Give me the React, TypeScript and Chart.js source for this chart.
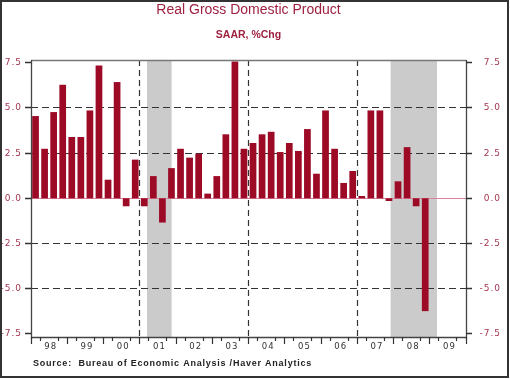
import React, { useEffect, useRef } from 'react';
import { Chart, registerables } from 'chart.js';

Chart.register(...registerables);

// ---- data ----
const years: number[] = [1998, 1999, 2000, 2001, 2002, 2003, 2004, 2005, 2006, 2007, 2008, 2009];
const quarterNames: string[] = ['Q1', 'Q2', 'Q3', 'Q4'];
const quarters: string[] = years.flatMap((yr) => quarterNames.map((q) => `${yr}${q}`));
const yearLabels: string[] = ['98', '99', '00', '01', '02', '03', '04', '05', '06', '07', '08', '09'];

// Real GDP, SAAR % change, 1998Q1 .. 2008Q4
const gdpGrowth: number[] = [
  4.55, 2.74, 4.77, 6.28,
  3.39, 3.39, 4.86, 7.35,
  1.03, 6.43, -0.44, 2.14,
  -0.44, 1.23, -1.34, 1.67,
  2.74, 2.25, 2.47, 0.26,
  1.23, 3.54, 7.57, 2.74,
  3.06, 3.54, 3.68, 2.56,
  3.06, 2.62, 3.83, 1.36,
  4.86, 2.74, 0.85, 1.51,
  0.13, 4.86, 4.86, -0.15,
  0.94, 2.83, -0.44, -6.24,
];

const recessions: [number, number][] = [
  [2001.2, 2001.88],
  [2007.92, 2009.2],
];
const dashedYears: number[] = [2001, 2004, 2007];
const yTicks: number[] = [-7.5, -5, -2.5, 0, 2.5, 5, 7.5];
const gridValues: number[] = [-5, -2.5, 2.5, 5];

const TITLE = 'Real Gross Domestic Product';
const SUBTITLE = 'SAAR, %Chg';
const SOURCE = 'Source:  Bureau of Economic Analysis /Haver Analytics';

// ---- styles ----
const BAR_COLOR = '#9c0a26';
const RED_TEXT = '#a3354f';
const TITLE_COLOR = '#9e2140';
const SHADE = '#cbcbcb';
const GRID = '#333333';
const ZERO_LINE = '#d9829a';

const crisp = (v: number) => Math.round(v - 0.5) + 0.5;

const decor = {
  id: 'decor',
  beforeDatasetsDraw(chart: any) {
    const { ctx, chartArea: a, scales } = chart;
    const y = scales.y;
    const qw = (a.right - a.left) / quarters.length;
    const yearX = (yr: number) => a.left + (yr - years[0]) * 4 * qw;
    ctx.save();
    // recession shading
    ctx.fillStyle = SHADE;
    recessions.forEach(([s, e]) => {
      const x0 = yearX(s);
      const x1 = yearX(e);
      ctx.fillRect(x0, a.top, x1 - x0, a.bottom - a.top);
    });
    // dashed grid
    ctx.strokeStyle = GRID;
    ctx.lineWidth = 1.2;
    ctx.setLineDash([7, 4]);
    gridValues.forEach((v) => {
      const py = crisp(y.getPixelForValue(v));
      ctx.beginPath();
      ctx.moveTo(a.left, py);
      ctx.lineTo(a.right, py);
      ctx.stroke();
    });
    ctx.setLineDash([6, 4]);
    dashedYears.forEach((yr) => {
      const px = crisp(yearX(yr));
      ctx.beginPath();
      ctx.moveTo(px, a.top);
      ctx.lineTo(px, a.bottom);
      ctx.stroke();
    });
    ctx.setLineDash([]);
    // zero line
    ctx.strokeStyle = ZERO_LINE;
    ctx.lineWidth = 1.2;
    const zy = crisp(y.getPixelForValue(0));
    ctx.beginPath();
    ctx.moveTo(a.left, zy);
    ctx.lineTo(a.right, zy);
    ctx.stroke();
    ctx.restore();
  },
  afterDatasetsDraw(chart: any) {
    const { ctx, chartArea: a, scales } = chart;
    const y = scales.y;
    const qw = (a.right - a.left) / quarters.length;
    const yearX = (yr: number) => a.left + (yr - years[0]) * 4 * qw;
    ctx.save();
    // frame
    ctx.lineWidth = 1.3;
    ctx.strokeStyle = '#777777';
    ctx.beginPath();
    ctx.moveTo(a.left, crisp(a.top));
    ctx.lineTo(a.right, crisp(a.top));
    ctx.stroke();
    ctx.strokeStyle = '#444444';
    ctx.beginPath();
    ctx.moveTo(crisp(a.left), a.top);
    ctx.lineTo(crisp(a.left), a.bottom + 2);
    ctx.moveTo(crisp(a.right), a.top);
    ctx.lineTo(crisp(a.right), a.bottom + 2);
    ctx.moveTo(a.left, crisp(a.bottom));
    ctx.lineTo(a.right, crisp(a.bottom));
    ctx.stroke();

    // y ticks & labels
    ctx.strokeStyle = '#333333';
    ctx.fillStyle = RED_TEXT;
    ctx.font = '9px "DejaVu Sans"';
    (ctx as any).letterSpacing = '1px';
    ctx.textBaseline = 'middle';
    yTicks.forEach((v) => {
      const py = crisp(y.getPixelForValue(v));
      ctx.beginPath();
      ctx.moveTo(a.left - 6, py);
      ctx.lineTo(a.left, py);
      ctx.moveTo(a.right, py);
      ctx.lineTo(a.right + 6, py);
      ctx.stroke();
      const label = v.toFixed(1);
      ctx.textAlign = 'right';
      ctx.fillText(label, a.left - 9, py + 0.5);
      ctx.fillText(label, a.right + 35, py + 0.5);
    });

    // x ticks & labels
    ctx.strokeStyle = '#333333';
    ctx.lineWidth = 1.2;
    for (let i = 0; i <= years.length; i++) {
      const yr = years[0] + i;
      const px = crisp(yearX(yr));
      ctx.beginPath();
      ctx.moveTo(px, a.bottom);
      ctx.lineTo(px, a.bottom + 7);
      ctx.stroke();
      if (i < years.length) {
        [0.25, 0.75].forEach((f) => {
          const mx = crisp(yearX(yr + f));
          ctx.beginPath();
          ctx.moveTo(mx, a.bottom);
          ctx.lineTo(mx, a.bottom + 4);
          ctx.stroke();
        });
      }
    }
    ctx.fillStyle = '#333333';
    ctx.font = '8.5px "DejaVu Sans"';
    ctx.textAlign = 'center';
    yearLabels.forEach((lab, i) => {
      ctx.fillText(lab, yearX(years[i] + 0.5) + 1.5, a.bottom + 9.5);
    });

    // source
    ctx.font = 'bold 9px "Liberation Sans"';
    ctx.fillStyle = '#222222';
    ctx.textAlign = 'left';
    (ctx as any).letterSpacing = '0px';
    const w0 = ctx.measureText(SOURCE).width;
    const targetW = 279;
    (ctx as any).letterSpacing = `${(targetW - w0) / SOURCE.length}px`;
    ctx.fillText(SOURCE, a.left + 2, 363.5);
    (ctx as any).letterSpacing = '0px';

    // outer border
    ctx.strokeStyle = '#333333';
    ctx.lineWidth = 2;
    ctx.strokeRect(1, 1, chart.width - 3, chart.height - 3);
    ctx.restore();
  },
};

export default function App() {
  const ref = useRef<HTMLCanvasElement>(null);
  useEffect(() => {
    if (!ref.current) return;
    const data = quarters.map((_, i) => (i < gdpGrowth.length ? gdpGrowth[i] : null));
    const chart = new Chart(ref.current, {
      type: 'bar',
      data: {
        labels: quarters,
        datasets: [
          {
            data,
            backgroundColor: BAR_COLOR,
            borderWidth: 0,
            barPercentage: 0.74,
            categoryPercentage: 1,
          },
        ],
      },
      options: {
        responsive: false,
        maintainAspectRatio: false,
        animation: false,
        layout: { padding: { left: 31, right: 44, top: 0, bottom: 42 } },
        scales: {
          x: { display: false, offset: true },
          y: { display: false, min: -7.67, max: 7.65 },
        },
        plugins: {
          legend: { display: false },
          tooltip: { enabled: false },
          title: {
            display: true,
            text: TITLE,
            fullSize: false,
            color: TITLE_COLOR,
            font: { family: '"Liberation Sans", Arial, sans-serif', size: 14, weight: 'normal' },
            padding: { top: 1.5, bottom: 0 },
          },
          subtitle: {
            display: true,
            text: SUBTITLE,
            fullSize: false,
            color: TITLE_COLOR,
            font: { family: '"Liberation Sans", Arial, sans-serif', size: 10.5, weight: 'bold' },
            padding: { top: 11, bottom: 18.1 },
          },
        },
      },
      plugins: [decor],
    } as any);
    return () => chart.destroy();
  }, []);
  return (
    <div style={{ position: 'absolute', left: 0, top: 0, width: 510, height: 379, background: '#fff' }}>
      <canvas ref={ref} width={510} height={379} style={{ display: 'block' }} />
    </div>
  );
}
